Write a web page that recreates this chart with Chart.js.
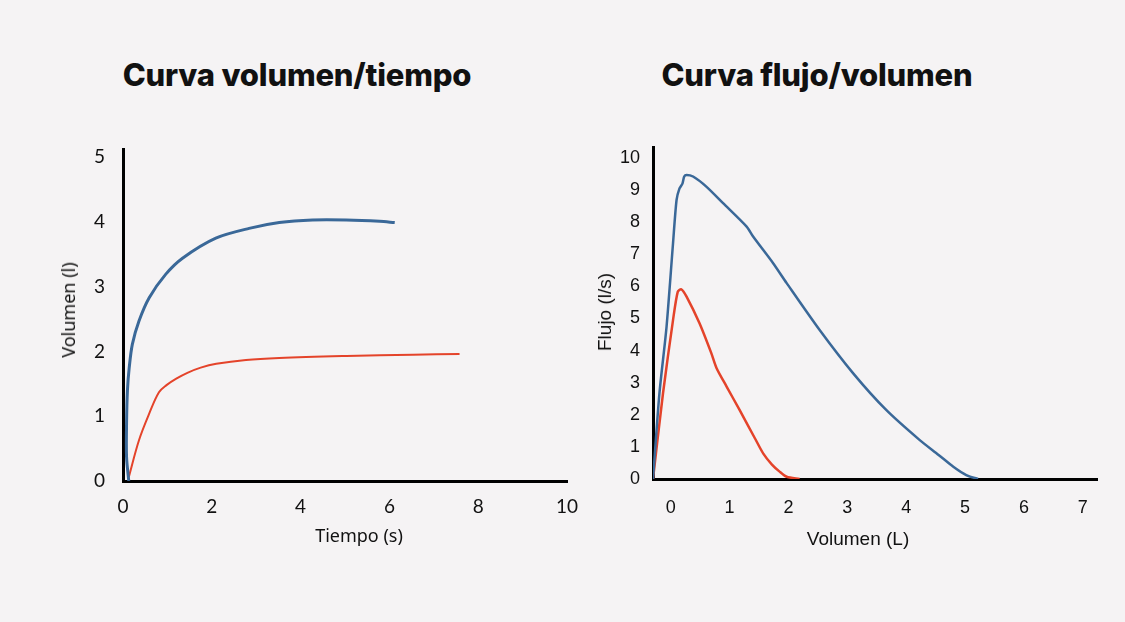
<!DOCTYPE html>
<html lang="es">
<head>
<meta charset="utf-8">
<script src="https://cdn.jsdelivr.net/npm/chart.js@4"></script>
<style>
  body { margin: 0; background: #f5f3f4; width: 1125px; height: 622px; overflow: hidden; position: relative; font-family: "Liberation Sans", sans-serif; }
  .titulo { position: absolute; top: 56px; font-family: Inter, sans-serif; font-weight: 800; font-size: 31px; color: #111; white-space: nowrap; transform: translateX(-50%); letter-spacing: -0.2px; }
  .caja { position: absolute; top: 120px; width: 600px; height: 440px; }
  .eje { position: absolute; color: #111; white-space: nowrap; }
  .rot { transform: translate(-50%, -50%) rotate(-90deg); }
  .hor { transform: translate(-50%, -50%); }
</style>
</head>
<body>
<div class="titulo" style="left:297px">Curva volumen/tiempo</div>
<div class="titulo" style="left:817px">Curva flujo/volumen</div>

<div class="caja" style="left:0"><canvas id="chartVT" width="600" height="440"></canvas></div>
<div class="caja" style="left:600px;width:525px"><canvas id="chartFV" width="525" height="440"></canvas></div>

<div class="eje rot" style="left:68px;top:310px;font-family:'Noto Sans',sans-serif;font-size:18px">Volumen (l)</div>
<div class="eje hor" style="left:359px;top:535px;font-family:'Noto Sans',sans-serif;font-size:18px">Tiempo (s)</div>
<div class="eje rot" style="left:605px;top:312px;font-size:19px">Flujo (l/s)</div>
<div class="eje hor" style="left:858px;top:539px;font-size:19px">Volumen (L)</div>

<script>
// curva volumen/tiempo
const tiempoAzul = [0.13, 0.08, 0.08, 0.10, 0.14, 0.21, 0.36, 0.59, 0.96, 1.34, 2.09, 2.84, 3.52, 4.27, 5.03, 5.78, 6.12];
const volumenAzul = [0, 0.37, 0.88, 1.4, 1.75, 2.11, 2.47, 2.83, 3.19, 3.44, 3.75, 3.9, 3.99, 4.03, 4.03, 4.01, 3.99];
const tiempoRojo = [0.13, 0.36, 0.59, 0.81, 0.98, 1.2, 1.45, 1.75, 2.1, 2.77, 3.52, 5.03, 6.53, 7.58];
const volumenRojo = [0.06, 0.63, 1.04, 1.37, 1.48, 1.58, 1.67, 1.75, 1.81, 1.87, 1.9, 1.93, 1.95, 1.96];

// curva flujo/volumen
const volFVAzul = [-0.3, -0.19, -0.07, 0.04, 0.10, 0.15, 0.20, 0.23, 0.27, 0.38, 0.61, 0.89, 1.29, 1.40, 1.74, 1.97, 2.53, 3.10, 3.66, 4.23, 4.55, 4.80, 5.02, 5.22];
const flujoAzul = [0, 2.68, 4.74, 7.34, 8.69, 9.05, 9.2, 9.42, 9.47, 9.42, 9.1, 8.59, 7.86, 7.55, 6.72, 6.1, 4.64, 3.29, 2.15, 1.21, 0.75, 0.38, 0.12, 0];
const volFVRojo = [-0.3, -0.13, 0.04, 0.12, 0.18, 0.27, 0.49, 0.69, 0.78, 0.95, 1.17, 1.43, 1.57, 1.72, 1.85, 1.97, 2.19];
const flujoRojo = [0, 2.67, 4.95, 5.83, 5.91, 5.68, 4.85, 3.92, 3.45, 2.88, 2.15, 1.27, 0.8, 0.45, 0.23, 0.07, 0];

// tick labels
const ticksTiempo = [0, 2, 4, 6, 8, 10];
const ticksVolumen = [0, 1, 2, 3, 4, 5];
const ticksVolFV = [0, 1, 2, 3, 4, 5, 6, 7];
const ticksFlujo = [0, 1, 2, 3, 4, 5, 6, 7, 8, 9, 10];

const AZUL = "#3a6898";
const ROJO = "#e4432a";

function puntos(xs, ys) {
  return xs.map((x, i) => ({ x: x, y: ys[i] }));
}

function fijarTicks(lista) {
  return scale => { scale.ticks = lista.map(v => ({ value: v })); };
}

function escala(opts) {
  return {
    type: "linear",
    min: opts.min,
    max: opts.max,
    afterBuildTicks: fijarTicks(opts.ticks),
    afterFit: opts.fit,
    grid: { display: false, drawTicks: false },
    border: { display: true, color: "#000", width: 3 },
    ticks: {
      padding: opts.padding,
      color: "#111",
      font: { family: opts.font, size: opts.size },
    },
  };
}

Chart.defaults.animation = false;

new Chart(document.getElementById("chartVT"), {
  type: "scatter",
  data: {
    datasets: [
      { data: puntos(tiempoAzul, volumenAzul), borderColor: AZUL, borderWidth: 3, showLine: true, pointRadius: 0, tension: 0.3 },
      { data: puntos(tiempoRojo, volumenRojo), borderColor: ROJO, borderWidth: 2, showLine: true, pointRadius: 0, tension: 0.35 },
    ],
  },
  options: {
    responsive: false,
    devicePixelRatio: 1,
    layout: { padding: { top: 27, right: 33, left: 0, bottom: 0 } },
    plugins: { legend: { display: false }, tooltip: { enabled: false } },
    scales: {
      x: escala({ min: 0, max: 10, ticks: ticksTiempo, padding: 14, font: "Lato", size: 19, fit: s => { s.height = 79; } }),
      y: escala({ min: 0, max: 5.12, ticks: ticksVolumen, padding: 18, font: "Lato", size: 19, fit: s => { s.width = 123; } }),
    },
  },
});

new Chart(document.getElementById("chartFV"), {
  type: "scatter",
  data: {
    datasets: [
      { data: puntos(volFVAzul, flujoAzul), borderColor: AZUL, borderWidth: 2.5, showLine: true, pointRadius: 0, tension: 0.25 },
      { data: puntos(volFVRojo, flujoRojo), borderColor: ROJO, borderWidth: 2.5, showLine: true, pointRadius: 0, tension: 0.25 },
    ],
  },
  options: {
    responsive: false,
    devicePixelRatio: 1,
    layout: { padding: { top: 27, right: 28, left: 0, bottom: 0 } },
    plugins: { legend: { display: false }, tooltip: { enabled: false } },
    scales: {
      x: escala({ min: -0.3, max: 7.24, ticks: ticksVolFV, padding: 18, font: "Liberation Sans", size: 18, fit: s => { s.height = 81; } }),
      y: escala({ min: 0, max: 10.34, ticks: ticksFlujo, padding: 13, font: "Liberation Sans", size: 18, fit: s => { s.width = 53; } }),
    },
  },
});
</script>
</body>
</html>
